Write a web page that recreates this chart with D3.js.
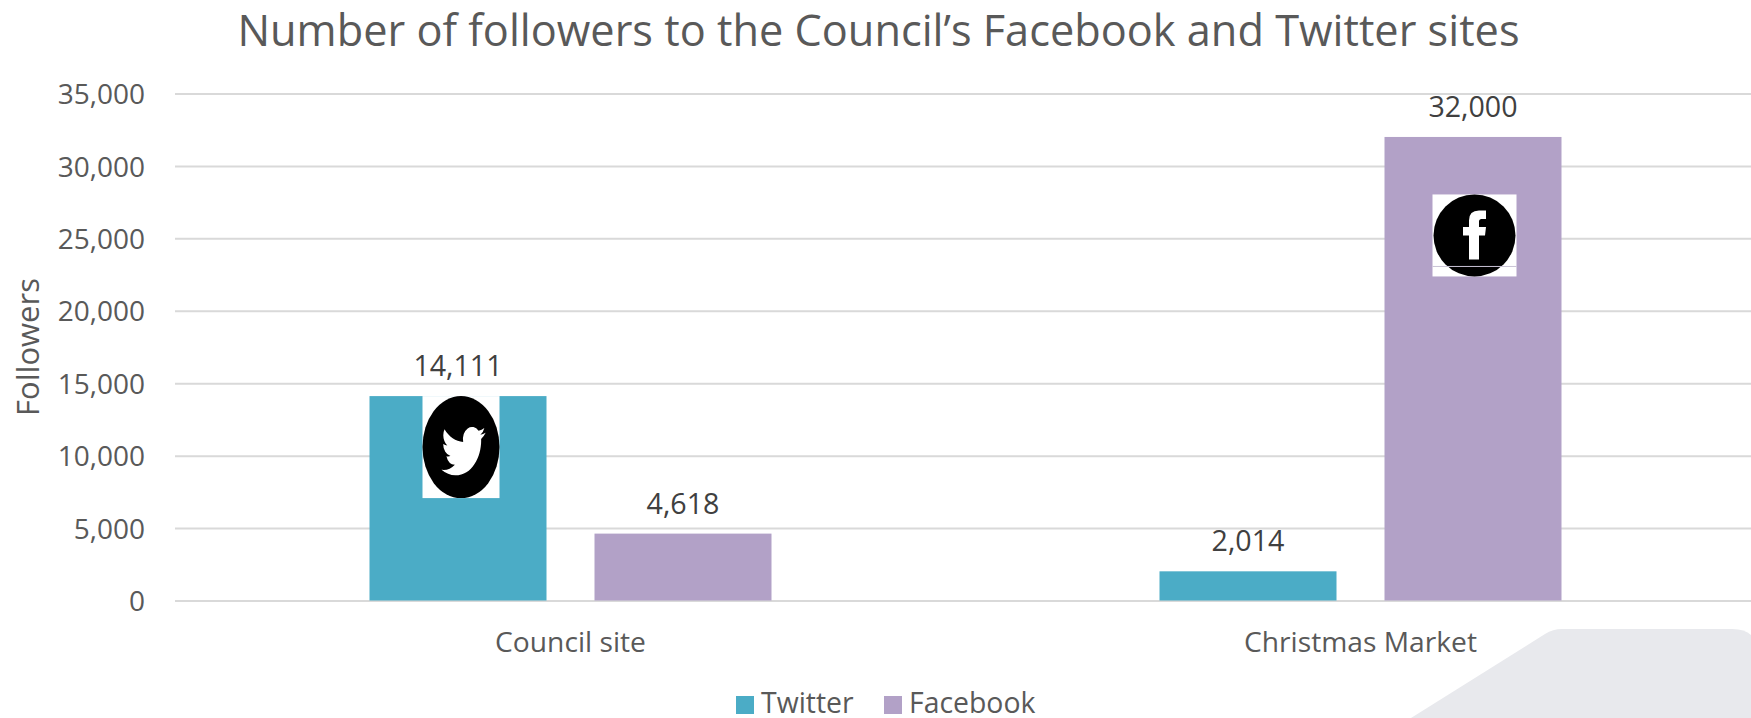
<!DOCTYPE html>
<html>
<head>
<meta charset="utf-8">
<script src="https://cdn.jsdelivr.net/npm/d3@7/dist/d3.min.js"></script>
<style>
html,body{margin:0;padding:0;background:#fff;overflow:hidden}
svg{display:block}
text{font-family:"Open Sans","Noto Sans",sans-serif}
</style>
</head>
<body>
<svg id="chart" width="1751" height="718"></svg>
<script>
// Follower counts per site
const categories = ["Council site", "Christmas Market"];
const seriesNames = ["Twitter", "Facebook"];
const twitterValues = [14111, 2014];
const facebookValues = [4618, 32000];
const seriesColors = ["#4bacc6", "#b2a1c7"];
const yTicks = [0, 5000, 10000, 15000, 20000, 25000, 30000, 35000];
const titleText = "Number of followers to the Council\u2019s Facebook and Twitter sites";
const yTitle = "Followers";

const svg = d3.select("#chart");
const seriesValues = [twitterValues, facebookValues];

const x0 = d3.scaleBand().domain(categories).range([175.5, 1755.5]);
const barWidth = 177;
const barGap = 48;
const groupOffset = (x0.bandwidth() - (barWidth * 2 + barGap)) / 2;
const barX = (cat, si) => x0(cat) + groupOffset + si * (barWidth + barGap);
const y = d3.scaleLinear().domain([0, 35000]).range([600.5, 93.5]);
const fmt = d3.format(",");

// Decorative rounded panel in the lower right corner
svg.append("path")
  .attr("d", "M1411,718 L1545,634 Q1553,629 1562,629 L1732,629 Q1745,629 1751,635 L1751,718 Z")
  .attr("fill", "#e8e9ed");

// Title
svg.append("text").attr("x", 878.5).attr("y", 46)
  .attr("text-anchor", "middle").attr("font-size", 43.3).attr("fill", "#595959")
  .text(titleText);

// Horizontal gridlines and value axis labels
const yAxis = d3.axisLeft(y).tickValues(yTicks).tickFormat(fmt).tickSize(0).tickPadding(30);
const yg = svg.append("g").attr("transform", "translate(175,0)").call(yAxis);
yg.select(".domain").remove();
yg.selectAll("text").attr("font-size", 28).attr("fill", "#595959")
  .style("font-family", '"Open Sans","Noto Sans",sans-serif').attr("dy", "0.36em");
yg.selectAll(".tick").append("line")
  .attr("x1", 0).attr("x2", 1580).attr("stroke", "#d9d9d9").attr("stroke-width", 2);

// Axis title
svg.append("text")
  .attr("transform", "translate(39,347) rotate(-90)")
  .attr("text-anchor", "middle").attr("font-size", 31).attr("fill", "#595959")
  .text(yTitle);

// Bars and their value labels
seriesNames.forEach((name, si) => {
  const rows = categories.map((c, i) => ({ c, v: seriesValues[si][i] }));
  svg.append("g").selectAll("rect").data(rows).join("rect")
    .attr("x", d => barX(d.c, si))
    .attr("y", d => y(d.v))
    .attr("width", barWidth)
    .attr("height", d => y(0) - y(d.v))
    .attr("fill", seriesColors[si]);
  svg.append("g").selectAll("text").data(rows).join("text")
    .attr("x", d => barX(d.c, si) + barWidth / 2)
    .attr("y", d => y(d.v) - 20)
    .attr("text-anchor", "middle").attr("font-size", 28.6).attr("fill", "#404040")
    .text(d => fmt(d.v));
});

// Category labels
svg.append("g").selectAll("text").data(categories).join("text")
  .attr("x", c => x0(c) + x0.bandwidth() / 2)
  .attr("y", 652)
  .attr("text-anchor", "middle").attr("font-size", 28.2).attr("fill", "#595959")
  .text(c => c);

// Legend
const legendItems = [{ x: 736, tx: 761 }, { x: 884, tx: 909 }];
seriesNames.forEach((name, i) => {
  svg.append("rect").attr("x", legendItems[i].x).attr("y", 696).attr("width", 18).attr("height", 18)
    .attr("fill", seriesColors[i]);
  svg.append("text").attr("x", legendItems[i].tx).attr("y", 713)
    .attr("font-size", 28.4).attr("fill", "#595959").text(name);
});

// Twitter badge sitting on the first bar
const twCx = barX(categories[0], 0) + barWidth / 2 + 3;
const twTop = y(twitterValues[0]);
const tw = svg.append("g").attr("transform", `translate(${twCx},${twTop})`);
tw.append("rect").attr("x", -38.5).attr("y", 0).attr("width", 77).attr("height", 102).attr("fill", "#fff");
tw.append("ellipse").attr("cx", 0).attr("cy", 51).attr("rx", 38.5).attr("ry", 51).attr("fill", "#000");
tw.append("path")
  .attr("transform", "translate(-19.5,30) scale(1.84,2.48) translate(0,-1.9)")
  .attr("fill", "#fff")
  .attr("d", "M23.953 4.57a10 10 0 01-2.825.775 4.958 4.958 0 002.163-2.723c-.951.555-2.005.959-3.127 1.184a4.92 4.92 0 00-8.384 4.482C7.69 8.095 4.067 6.13 1.64 3.162a4.822 4.822 0 00-.666 2.475c0 1.71.87 3.213 2.188 4.096a4.904 4.904 0 01-2.228-.616v.06a4.923 4.923 0 003.946 4.827 4.996 4.996 0 01-2.212.085 4.936 4.936 0 004.604 3.417 9.867 9.867 0 01-6.102 2.105c-.39 0-.779-.023-1.17-.067a13.995 13.995 0 007.557 2.209c9.053 0 13.998-7.496 13.998-13.985 0-.21 0-.42-.015-.63A9.935 9.935 0 0024 4.59z");

// Facebook badge inside the tall bar
const fbCx = barX(categories[1], 1) + barWidth / 2 + 1.5;
const fbTop = y(facebookValues[1]);
const fb = svg.append("g").attr("transform", `translate(${fbCx},${fbTop + 57.5})`);
fb.append("rect").attr("x", -42).attr("y", 0).attr("width", 84).attr("height", 82).attr("fill", "#fff");
fb.append("circle").attr("cx", 0).attr("cy", 41).attr("r", 41).attr("fill", "#000");
fb.append("path").attr("fill", "#fff")
  .attr("d", "M-5.5,65 L-5.5,41 L-11.5,41 L-11.5,32.5 L-5.5,32.5 L-5.5,26 Q-5.5,16 4.5,16 L11.5,16 L11.5,24.5 L7,24.5 Q4.5,24.5 4.5,27 L4.5,32.5 L11.5,32.5 L10.5,41 L4.5,41 L4.5,65 Z");
fb.append("line").attr("x1", -42).attr("x2", 42).attr("y1", 72).attr("y2", 72)
  .attr("stroke", "#c9c3d6").attr("stroke-width", 1);
</script>
</body>
</html>
